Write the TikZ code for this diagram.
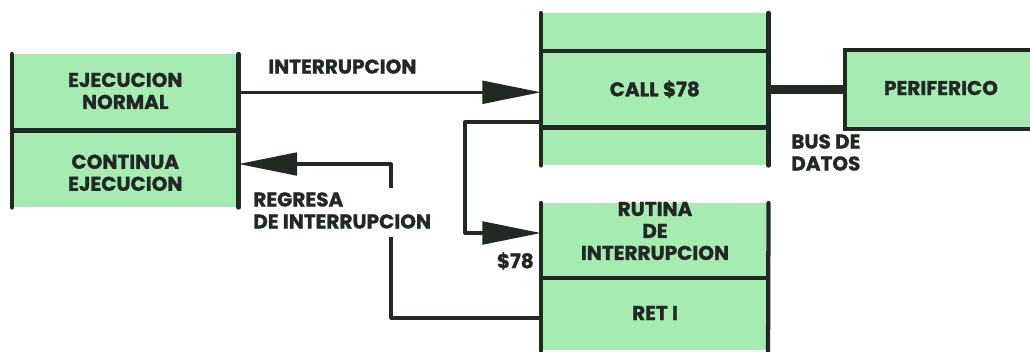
\documentclass[tikz,border=0pt]{standalone}
\usepackage{fontspec}
\setmainfont{Poppins}[BoldFeatures={FakeBold=1.2}]
\usetikzlibrary{arrows.meta}
\definecolor{boxgreen}{RGB}{166,236,178}
\definecolor{ink}{RGB}{34,40,34}
\tikzset{
  part/.style={fill=boxgreen,draw=none,inner sep=0pt,anchor=north west,minimum width=#1},
  part/.default=169.5pt,
  lbl/.style={font=\fontsize{15}{16.5}\selectfont\bfseries,text=ink,align=center,inner sep=0pt},
  bar/.style={draw=ink,line width=3.2pt,line cap=round},
  conn/.style={draw=ink,line width=2.4pt,line join=round},
  bigarrow/.style={-{Triangle[length=44pt,width=17pt]}}
}
\begin{document}
\begin{tikzpicture}[x=0.75pt,y=-0.75pt]
\useasboundingbox (0,0) rectangle (1030,351);
% left box
\node[part,minimum height=57pt] (en) at (12,54) {};
\node[part,minimum height=57.75pt] (ce) at (12,130) {};
\node[lbl] (entxt) at ([yshift=1pt]en.center) {EJECUCION\\NORMAL};
\node[lbl] (cetxt) at ([yshift=-3pt]ce.center) {CONTINUA\\EJECUCION};
\draw[bar] (en.north west) -- (ce.south west);
\draw[bar] (en.north east) -- (ce.south east);
\draw[bar,line cap=butt] (en.south west) -- (en.south east);
% call box
\node[part=170.25pt,minimum height=28.5pt] (ctop) at (541,13) {};
\node[part=170.25pt,minimum height=57pt] (call) at (541,51) {};
\node[part=170.25pt,minimum height=28.5pt] (cbot) at (541,127) {};
\node[lbl] (calltxt) at (call.center) {CALL \$78};
\draw[bar] (ctop.north west) -- (cbot.south west);
\draw[bar] (ctop.north east) -- (cbot.south east);
\draw[bar,line cap=butt] (call.north west) -- (call.north east);
\draw[bar,line cap=butt] (call.south west) -- (call.south east);
% rutina box
\node[part=170.25pt,minimum height=56.25pt] (rut) at (541,203) {};
\node[part=170.25pt,minimum height=54pt] (ret) at (541,278) {};
\node[lbl] (ruttxt) at (655,231) {RUTINA\\DE\\INTERRUPCION};
\node[lbl] (rettxt) at (655,313) {RET I};
\draw[bar] (rut.north west) -- (541,360);
\draw[bar] (rut.north east) -- (768,360);
\draw[bar,line cap=butt] (ret.north west) -- (ret.north east);
% periferico
\node[fill=boxgreen,draw=ink,line width=3pt,inner sep=0pt,minimum width=147.75pt,minimum height=59.25pt,anchor=north west] (peri) at (843,48) {};
\node[lbl] (peritxt) at (941,88) {PERIFERICO};
% bus
\draw[draw=ink,line width=7pt] (call.east |- peri.west) -- (peri.west);
\node[lbl,align=left,anchor=north west] (bus) at (791,134) {BUS DE\\DATOS};
% interrupcion arrow
\draw[conn,bigarrow] (en.east) -- (en.east -| call.west);
\node[lbl,anchor=south west] (inttxt) at (268,74) {INTERRUPCION};
% call -> rutina
\coordinate (c1) at (541,122);
\coordinate (c2) at (465,122);
\coordinate (c3) at (465,233);
\draw[conn,bigarrow] (c1) -- (c2) -- (c3) -- (c3 -| rut.west);
\node[lbl,anchor=east] (d78) at (534,261) {\$78};
% return
\coordinate (r1) at (541,318);
\coordinate (r2) at (391,318);
\coordinate (r3) at (391,237);
\coordinate (r4) at (391,188);
\coordinate (r5) at (391,164);
\draw[conn] (r1) -- (r2) -- (r3);
\draw[conn,bigarrow] (r4) -- (r5) -- (r5 -| ce.east);
\node[lbl,align=left,anchor=north west] (regtxt) at (253,192) {REGRESA\\DE INTERRUPCION};
\end{tikzpicture}
\end{document}
